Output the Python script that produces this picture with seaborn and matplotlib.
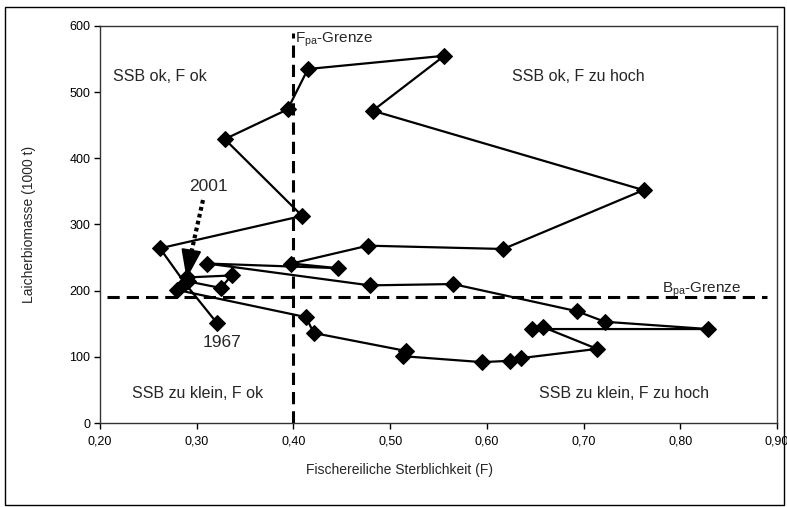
import matplotlib
matplotlib.use("Agg")
import matplotlib.pyplot as plt
from matplotlib.patches import Rectangle
import seaborn as sns
import pandas as pd

# ---- data ----
years = list(range(1967, 2002))
fishing_mortality = [0.321, 0.288, 0.262, 0.409, 0.329, 0.394, 0.415, 0.556, 0.482, 0.762,
                     0.617, 0.477, 0.398, 0.446, 0.311, 0.479, 0.565, 0.693, 0.722, 0.829,
                     0.647, 0.658, 0.714, 0.635, 0.624, 0.595, 0.513, 0.516, 0.421, 0.413,
                     0.280, 0.291, 0.325, 0.336, 0.290]
ssb = [151, 211, 264, 313, 429, 474, 535, 555, 472, 352,
       263, 268, 241, 234, 241, 208, 210, 169, 153, 142,
       142, 145, 112, 98, 94, 92, 101, 109, 136, 160,
       201, 214, 204, 223, 220]

F_PA = 0.40
B_PA = 190
x_ticks = [0.2, 0.3, 0.4, 0.5, 0.6, 0.7, 0.8, 0.9]
x_tick_labels = ["0,20", "0,30", "0,40", "0,50", "0,60", "0,70", "0,80", "0,90"]
y_ticks = [0, 100, 200, 300, 400, 500, 600]

df = pd.DataFrame({"Jahr": years, "F": fishing_mortality, "SSB": ssb})

sns.set_style("ticks")
plt.rcParams["font.family"] = ["Liberation Sans", "DejaVu Sans"]
plt.rcParams["mathtext.fontset"] = "custom"
plt.rcParams["mathtext.rm"] = "Liberation Sans"
plt.rcParams["mathtext.it"] = "Liberation Sans:italic"

fig = plt.figure(figsize=(7.87, 5.07), dpi=100)
ax = fig.add_axes([100 / 787, 84 / 507, 677 / 787, 397 / 507])

# reference lines
ax.plot([F_PA, F_PA], [0, 590], color="black", lw=2.2, ls=(0, (4, 2.3)), zorder=1)
ax.plot([0.207, 0.89], [B_PA, B_PA], color="black", lw=2.2, ls=(0, (4, 2.3)), zorder=1)

sns.lineplot(data=df, x="F", y="SSB", sort=False, estimator=None, ax=ax,
             color="black", lw=1.6, marker="D", markersize=8.5,
             markeredgecolor="black", markerfacecolor="black", zorder=3)

ax.set_xlim(0.2, 0.9)
ax.set_ylim(0, 600)
ax.set_xticks(x_ticks)
ax.set_xticklabels(x_tick_labels)
ax.set_yticks(y_ticks)
ax.tick_params(axis="both", direction="out", length=4, width=1, labelsize=9,
               color="black", labelcolor="black")
ax.tick_params(axis="x", pad=5)
ax.tick_params(axis="y", pad=3)
for s in ax.spines.values():
    s.set_visible(True)
    s.set_color("#333333")
    s.set_linewidth(1.0)

ax.set_xlabel("Fischereiliche Sterblichkeit (F)", fontsize=10)
ax.set_ylabel("Laicherbiomasse (1000 t)", fontsize=10)
ax.xaxis.set_label_coords((400 - 100) / 677, -(470 - 423) / 397)
ax.xaxis.label.set_va("center")
ax.yaxis.set_label_coords(-(100 - 29) / 677, 0.5)
ax.yaxis.label.set_va("center")

# quadrant labels
qfs = 11.5
ax.text(0.2134, 524, "SSB ok, F ok", fontsize=qfs, va="center", ha="left")
ax.text(0.626, 524, "SSB ok, F zu hoch", fontsize=qfs, va="center", ha="left")
ax.text(0.233, 45, "SSB zu klein, F ok", fontsize=qfs, va="center", ha="left")
ax.text(0.654, 45, "SSB zu klein, F zu hoch", fontsize=qfs, va="center", ha="left")

ax.text(0.402, 579, r"F$_{\mathrm{pa}}$-Grenze", fontsize=11, va="center", ha="left")
ax.text(0.781, 201, r"B$_{\mathrm{pa}}$-Grenze", fontsize=11, va="center", ha="left")

# year labels and arrow
ax.text(0.3117, 357, "2001", fontsize=12.5, va="center", ha="center")
ax.text(0.326, 121, "1967", fontsize=12.5, va="center", ha="center")
arrow_tail = (0.3065, 337)
arrow_base = (0.2935, 252)
arrow_tip = (0.2895, 218)
ax.plot([arrow_tail[0], arrow_base[0]], [arrow_tail[1], arrow_base[1]],
        color="black", lw=3, ls=(0, (0.9, 0.8)), solid_capstyle="butt", zorder=4)
ax.annotate("", xy=arrow_tip, xytext=(arrow_base[0] + 0.0008, arrow_base[1] + 8),
            arrowprops=dict(arrowstyle="-|>,head_length=1.3,head_width=0.45",
                            color="black", lw=1.5, mutation_scale=14,
                            shrinkA=0, shrinkB=0), zorder=4)

# outer frame of chart area
fig.patches.append(Rectangle((5 / 787, 2 / 507), 779 / 787, 498 / 507,
                             transform=fig.transFigure, fill=False,
                             edgecolor="black", lw=1.0))

fig.savefig("out.png", dpi=100, facecolor="white")
